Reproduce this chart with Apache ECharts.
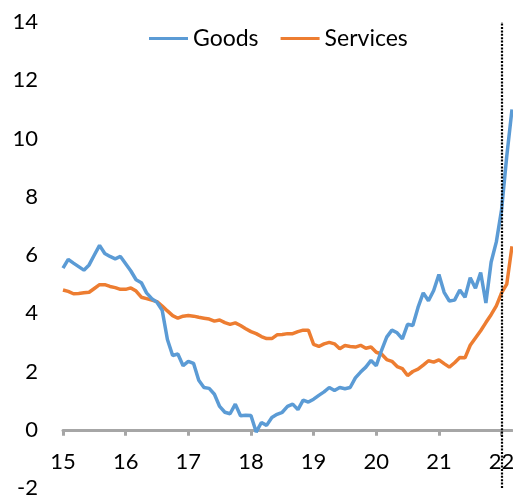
<!DOCTYPE html>
<html>
<head>
<meta charset="utf-8">
<script src="https://cdn.jsdelivr.net/npm/echarts@6/dist/echarts.min.js"></script>
<style>
html,body{margin:0;padding:0;background:#fff;}
#chart{width:513px;height:499px;}
</style>
</head>
<body>
<div id="chart"></div>
<script>
// Monthly, Jan 2015 .. Mar 2022
const startYear = 2015;
const monthCount = 87;
const months = [];
for (let i = 0; i < monthCount; i++) {
  const y = startYear + Math.floor(i / 12);
  const m = (i % 12) + 1;
  months.push(y + '-' + (m < 10 ? '0' + m : '' + m));
}

const goods = [
  5.55, 5.85, 5.72, 5.6, 5.48, 5.66, 6.0, 6.33, 6.05, 5.95, 5.87, 5.95,
  5.7, 5.45, 5.15, 5.05, 4.7, 4.5, 4.38, 4.1, 3.1, 2.55, 2.6, 2.2,
  2.35, 2.28, 1.7, 1.45, 1.42, 1.22, 0.8, 0.6, 0.55, 0.88, 0.48, 0.5,
  0.49, -0.08, 0.25, 0.15, 0.42, 0.53, 0.6, 0.8, 0.88, 0.69, 1.02, 0.95,
  1.05, 1.18, 1.3, 1.45, 1.35, 1.45, 1.41, 1.45, 1.78, 1.98, 2.15, 2.38,
  2.2, 2.72, 3.18, 3.42, 3.33, 3.12, 3.62, 3.58, 4.2, 4.7, 4.43, 4.78,
  5.33, 4.72, 4.42, 4.45, 4.8, 4.55, 5.22, 4.86, 5.4, 4.35, 5.75, 6.45,
  7.55, 9.4, 11.0
];

const services = [
  4.8, 4.75, 4.67, 4.68, 4.7, 4.72, 4.85, 4.98, 4.98, 4.92, 4.88, 4.82,
  4.82, 4.87, 4.76, 4.55, 4.5, 4.45, 4.4, 4.25, 4.08, 3.92, 3.83, 3.9,
  3.92, 3.9, 3.86, 3.83, 3.8, 3.73, 3.77, 3.68, 3.62, 3.67, 3.58, 3.47,
  3.37, 3.3, 3.2, 3.13, 3.13, 3.26, 3.27, 3.3, 3.3, 3.37, 3.42, 3.42,
  2.93, 2.86, 2.95, 3.0, 2.95, 2.78, 2.89, 2.86, 2.84, 2.9, 2.8, 2.84,
  2.66, 2.6, 2.41, 2.35, 2.17, 2.1, 1.86, 2.0, 2.08, 2.22, 2.37, 2.32,
  2.4, 2.27, 2.15, 2.3, 2.48, 2.47, 2.9, 3.15, 3.4, 3.68, 3.95, 4.25,
  4.7, 5.0, 6.3
];

const seriesNames = ['Goods', 'Services'];
const markerMonth = '2022-01';
const yTicks = { min: -2, max: 14, interval: 2 };

const FONT = 'Lato';
const isJan = (idx, val) => String(val).slice(5) === '01';

const chart = echarts.init(document.getElementById('chart'), null, {renderer: 'canvas'});
chart.setOption({
  animation: false,
  textStyle: { fontFamily: FONT },
  color: ['#5B9BD5', '#ED7D31'],
  legend: {
    data: seriesNames,
    left: 144,
    top: 22,
    icon: 'rect',
    itemWidth: 39,
    itemHeight: 3,
    itemGap: 22,
    textStyle: { fontFamily: FONT, fontSize: 23, color: '#000' }
  },
  grid: { left: 63, right: 1, top: 22, bottom: 11, containLabel: false, outerBoundsMode: 'none' },
  xAxis: {
    type: 'category',
    data: months,
    boundaryGap: false,
    axisLine: { onZero: true, lineStyle: { color: '#A6A6A6', width: 3 } },
    axisTick: { show: true, interval: isJan, length: 6, lineStyle: { color: '#A6A6A6', width: 3 } },
    axisLabel: {
      interval: isJan,
      formatter: v => v.slice(2, 4),
      margin: -37,
      fontFamily: FONT, fontSize: 22, color: '#000'
    },
    splitLine: { show: false }
  },
  yAxis: {
    type: 'value',
    min: yTicks.min, max: yTicks.max, interval: yTicks.interval,
    axisLine: { show: false },
    axisTick: { show: false },
    splitLine: { show: false },
    axisLabel: { margin: 25, fontFamily: FONT, fontSize: 22, color: '#000' }
  },
  series: [
    {
      name: seriesNames[0], type: 'line', data: goods, showSymbol: false,
      lineStyle: { width: 3.5, color: '#5B9BD5' }, z: 3,
      markLine: {
        silent: true, symbol: ['none', 'none'], label: { show: false },
        lineStyle: { color: '#000', width: 2.2, type: [2, 1.4] },
        data: [{ xAxis: markerMonth }]
      }
    },
    {
      name: seriesNames[1], type: 'line', data: services, showSymbol: false,
      lineStyle: { width: 3.5, color: '#ED7D31' }, z: 2
    }
  ]
});
</script>
</body>
</html>
